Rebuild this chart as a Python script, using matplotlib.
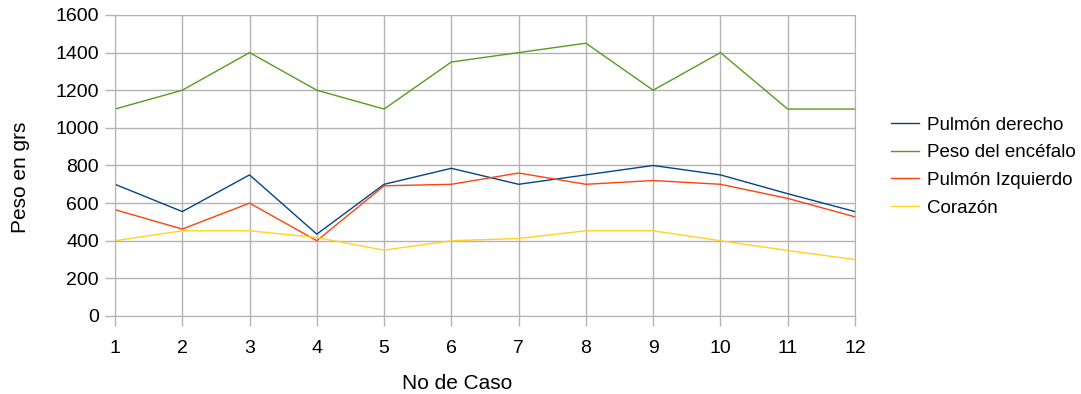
import matplotlib.pyplot as plt

plt.rcParams['font.family'] = ['Liberation Sans', 'DejaVu Sans']

# datos
casos = [1, 2, 3, 4, 5, 6, 7, 8, 9, 10, 11, 12]
pulmon_derecho = [700, 555, 750, 435, 700, 785, 700, 750, 800, 750, 650, 555]
encefalo = [1100, 1200, 1400, 1200, 1100, 1350, 1400, 1450, 1200, 1400, 1100, 1100]
pulmon_izquierdo = [565, 462, 600, 400, 692, 700, 760, 700, 720, 700, 625, 527]
corazon = [400, 453, 453, 417, 350, 400, 412, 453, 453, 400, 348, 300]

fig = plt.figure(figsize=(10.81, 3.94), dpi=100)
ax = fig.add_axes([0.1064, 0.198, 0.6845, 0.764])

ax.plot(casos, pulmon_derecho, color='#004586', lw=1.0, label='Pulmón derecho')
ax.plot(casos, encefalo, color='#579d1c', lw=1.0, label='Peso del encéfalo')
ax.plot(casos, pulmon_izquierdo, color='#ff420e', lw=1.0, label='Pulmón Izquierdo')
ax.plot(casos, corazon, color='#ffd320', lw=1.0, label='Corazón')

ax.set_xlim(1, 12)
ax.set_ylim(0, 1600)
ax.set_xticks(casos)
ax.set_yticks(range(0, 1601, 200))
ax.grid(True, color='#b3b3b3', lw=1.0)
ax.set_axisbelow(True)
for s in ax.spines.values():
    s.set_color('#b3b3b3')
ax.tick_params(colors='#b3b3b3', labelcolor='black', length=7.5, width=1.0,
               labelsize=14, pad=4)
ax.tick_params(axis='x', pad=10)

ax.set_xlabel('No de Caso', fontsize=15, labelpad=12)
ax.set_ylabel('Peso en grs', fontsize=15, labelpad=18)
ax.xaxis.label.set_x(0.462)
ax.yaxis.label.set_y(0.46)

ax.legend(loc='center left', bbox_to_anchor=(1.026, 0.496), frameon=False,
          fontsize=13.5, handlelength=1.5, handletextpad=0.4, labelspacing=0.56)

fig.savefig('out.png', dpi=100)
